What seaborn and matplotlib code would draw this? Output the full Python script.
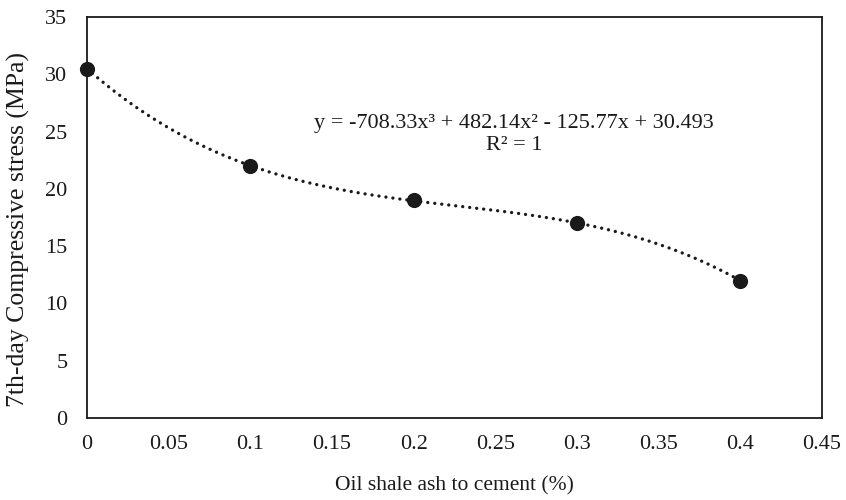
import numpy as np
import pandas as pd
import matplotlib
matplotlib.use("Agg")
import matplotlib.pyplot as plt
import seaborn as sns

# Data
ash_ratio = [0.0, 0.1, 0.2, 0.3, 0.4]
strength = [30.5, 22.0, 19.0, 17.0, 12.0]
x_ticks = [0, 0.05, 0.1, 0.15, 0.2, 0.25, 0.3, 0.35, 0.4, 0.45]
x_tick_labels = ["0", "0.05", "0.1", "0.15", "0.2", "0.25", "0.3", "0.35", "0.4", "0.45"]
y_ticks = [0, 5, 10, 15, 20, 25, 30, 35]
equation_text = "y = -708.33x³ + 482.14x² - 125.77x + 30.493\nR² = 1"

sns.set_theme(style="white")
plt.rcParams['font.family'] = ['Liberation Serif', 'DejaVu Serif']

df = pd.DataFrame({"x": ash_ratio, "y": strength})

# polynomial (order 3) trendline fitted to the data
coef = np.polyfit(ash_ratio, strength, 3)
xs = np.linspace(min(ash_ratio), max(ash_ratio), 300)
trend = pd.DataFrame({"x": xs, "y": np.polyval(coef, xs)})

fig = plt.figure(figsize=(8.46, 5.0), dpi=100)
ax = fig.add_axes([87/846, 1-418/500, (822-87)/846, (418-17)/500])

sns.lineplot(data=trend, x="x", y="y", ax=ax, color="#1a1a1a", linewidth=2.4,
             linestyle=(0, (0.01, 2.1)), dash_capstyle="round", zorder=2)
sns.scatterplot(data=df, x="x", y="y", ax=ax, color="#1a1a1a", s=120,
                edgecolor="#1a1a1a", linewidth=0, zorder=3, clip_on=False)

ax.set_xlim(0, 0.45)
ax.set_ylim(0, 35)
ax.set_xticks(x_ticks)
ax.set_xticklabels(x_tick_labels)
ax.set_yticks(y_ticks)
ax.tick_params(axis="both", length=0, labelsize=16, colors="#1a1a1a")
ax.tick_params(axis="x", pad=12)
ax.tick_params(axis="y", pad=14)
for sp in ax.spines.values():
    sp.set_color("#1a1a1a")
    sp.set_linewidth(1.3)
ax.grid(False)

ax.set_xlabel("Oil shale ash to cement (%)", fontsize=15.5, color="#1a1a1a", labelpad=16)
ax.set_ylabel("7th-day Compressive stress (MPa)", fontsize=18.5, color="#1a1a1a")
ax.yaxis.set_label_coords(-0.078, 0.47)

ax.text(0.2615, 24.74, equation_text, ha="center", va="center", fontsize=16,
        color="#1a1a1a", linespacing=1.25)

fig.savefig("out.png", dpi=100)
